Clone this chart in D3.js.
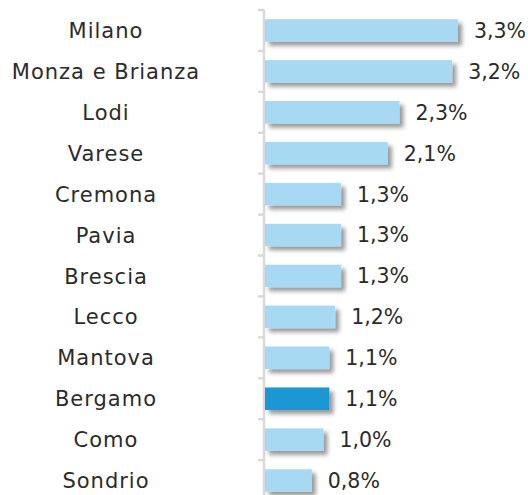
<!DOCTYPE html>
<html>
<head>
<meta charset="utf-8">
<script src="https://cdn.jsdelivr.net/npm/d3@7/dist/d3.min.js"></script>
<style>
  html, body { margin: 0; padding: 0; background: #fff; }
  svg { display: block; }
  text { font-family: "DejaVu Sans", sans-serif; fill: #2b2b2b; }
</style>
</head>
<body>
<svg id="chart" width="528" height="495"></svg>
<script>
// Province names, top to bottom
const provinces = ["Milano", "Monza e Brianza", "Lodi", "Varese", "Cremona", "Pavia",
  "Brescia", "Lecco", "Mantova", "Bergamo", "Como", "Sondrio"];
// Percentage values (%)
const values = [3.3, 3.2, 2.3, 2.1, 1.3, 1.3, 1.3, 1.2, 1.1, 1.1, 1.0, 0.8];
// Province drawn with the accent colour
const highlighted = ["Bergamo"];

const svg = d3.select("#chart");
const axisX = 264;

const y = d3.scaleBand()
  .domain(provinces)
  .range([10, 501])
  .paddingInner(0.45)
  .paddingOuter(0.225);

const x = d3.scaleLinear()
  .domain([0, 3.3])
  .range([axisX + 1, axisX + 1 + 193]);

const defs = svg.append("defs");
const shadow = defs.append("filter")
  .attr("id", "barShadow")
  .attr("x", "-10%").attr("y", "-30%")
  .attr("width", "130%").attr("height", "190%");
shadow.append("feDropShadow")
  .attr("dx", 4).attr("dy", 4)
  .attr("stdDeviation", 2)
  .attr("flood-color", "#000")
  .attr("flood-opacity", 0.4);

// Vertical category axis with tick marks on band boundaries
const boundaries = provinces.map(p => y(p) - y.step() * y.paddingInner() / 2);
svg.append("line")
  .attr("x1", axisX).attr("x2", axisX)
  .attr("y1", boundaries[0]).attr("y2", 495)
  .attr("stroke", "#d9d9d9").attr("stroke-width", 2.5);
svg.selectAll(".tick")
  .data(boundaries)
  .join("line")
  .attr("class", "tick")
  .attr("x1", axisX - 6).attr("x2", axisX)
  .attr("y1", d => d).attr("y2", d => d)
  .attr("stroke", "#d9d9d9").attr("stroke-width", 2.5);

const rows = provinces.map((p, i) => ({ name: p, value: values[i] }));

svg.selectAll(".bar")
  .data(rows)
  .join("rect")
  .attr("class", "bar")
  .attr("x", x(0))
  .attr("y", d => y(d.name))
  .attr("width", d => x(d.value) - x(0))
  .attr("height", y.bandwidth())
  .attr("fill", d => highlighted.includes(d.name) ? "#1b97d3" : "#a7d9f2")
  .attr("filter", "url(#barShadow)");

svg.selectAll(".value")
  .data(rows)
  .join("text")
  .attr("class", "value")
  .attr("x", d => x(d.value) + 16)
  .attr("y", d => y(d.name) + y.bandwidth() / 2)
  .attr("dy", "0.36em")
  .attr("font-size", 20.5)
  .text(d => d3.format(".1f")(d.value).replace(".", ",") + "%");

svg.selectAll(".name")
  .data(rows)
  .join("text")
  .attr("class", "name")
  .attr("x", 106)
  .attr("y", d => y(d.name) + y.bandwidth() / 2)
  .attr("dy", "0.36em")
  .attr("text-anchor", "middle")
  .attr("font-size", 21)
  .attr("letter-spacing", 1)
  .text(d => d.name);
</script>
</body>
</html>
